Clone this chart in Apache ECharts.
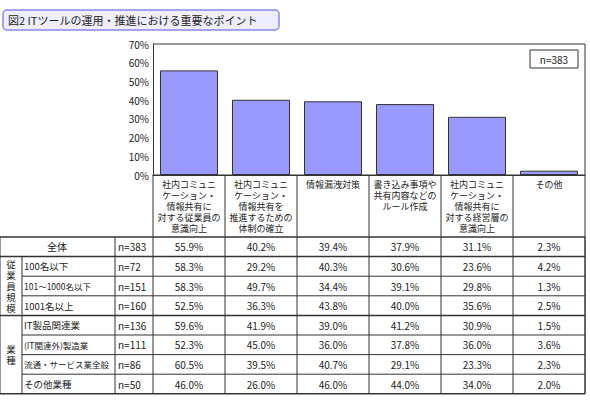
<!DOCTYPE html><html><head><meta charset="utf-8"><script src="https://cdn.jsdelivr.net/npm/echarts@6/dist/echarts.min.js"></script>
<style>body{margin:0}#c{width:590px;height:400px}</style></head><body><div id="c"></div><script>
const title='図2 ITツールの運用・推進における重要なポイント';
const categories=['社内コミュニ\nケーション・\n情報共有に\n対する従業員の\n意識向上','社内コミュニ\nケーション・\n情報共有を\n推進するための\n体制の確立','情報漏洩対策','書き込み事項や\n共有内容などの\nルール作成','社内コミュニ\nケーション・\n情報共有に\n対する経営層の\n意識向上','その他'];
const totalValues=[55.9,40.2,39.4,37.9,31.1,2.3];
const yTicks=[0,10,20,30,40,50,60,70];
const rowLabels=['全体','100名以下','101～1000名以下','1001名以上','IT製品関連業','(IT関連外)製造業','流通・サービス業全般','その他業種'];
const rowN=['n=383','n=72','n=151','n=160','n=136','n=111','n=86','n=50'];
const rows=[
[55.9,40.2,39.4,37.9,31.1,2.3],
[58.3,29.2,40.3,30.6,23.6,4.2],
[58.3,49.7,34.4,39.1,29.8,1.3],
[52.5,36.3,43.8,40.0,35.6,2.5],
[59.6,41.9,39.0,41.2,30.9,1.5],
[52.3,45.0,36.0,37.8,36.0,3.6],
[60.5,39.5,40.7,29.1,23.3,2.3],
[46.0,26.0,46.0,44.0,34.0,2.0]];
const groups=[{name:'従業員規模',from:1,to:3},{name:'業種',from:4,to:7}];
const F='"Noto Sans CJK JP", sans-serif';
const L=153,R=585,TOP=44,AX=175,TT=237,RH=19.6;
const cw=(R-L)/6;
const g=[];
const line=(x1,y1,x2,y2,w)=>g.push({type:'line',shape:{x1,y1,x2,y2},style:{stroke:'#333',lineWidth:w||1}});
const txt=(x,y,t,al,fs)=>g.push({type:'text',x,y,style:{text:t,font:(fs||10)+'px '+F,fill:'#222',textAlign:al||'center',textVerticalAlign:'middle'}});
g.push({type:'rect',shape:{x:3,y:10,width:276,height:20,r:4},style:{fill:'#eeeeff',stroke:'#8888ee',lineWidth:1.5}});
g.push({type:'text',x:8,y:20,style:{text:title,font:'11px '+F,fill:'#222',textVerticalAlign:'middle'}});
g.push({type:'rect',shape:{x:530,y:50,width:48,height:18},style:{fill:'#fff',stroke:'#333'}});
txt(554,59,'n=383');
const bot=TT+RH*rows.length;
for(let i=0;i<=6;i++){line(L+i*cw,AX,L+i*cw,bot);}
line(L,AX,R,AX);
for(let r=0;r<=rows.length;r++){const y=TT+r*RH;let x0=0;
 if(r>0&&r<rows.length&&r!==4&&r!==1) x0=22; line(x0,y,R,y,(r===0||r===rows.length||r===1||r===4)?1.5:1);}
line(0,TT,0,bot);line(22,TT+RH,22,bot);line(115,TT,115,bot);line(R,TT,R,bot);
rows.forEach((row,r)=>{const y=TT+r*RH+RH/2;
 if(r===0) txt(57,y,rowLabels[r]); else txt(24,y,rowLabels[r],'left',rowLabels[r].length>8?8.5:9.5);
 txt(118,y,rowN[r],'left');
 row.forEach((v,c)=>txt(L+c*cw+cw/2,y,v.toFixed(1)+'%'));});
groups.forEach(gr=>{const y=TT+RH*(gr.from+gr.to+1)/2;
 g.push({type:'text',x:11,y,style:{text:gr.name.split('').join('\n'),font:'9.5px '+F,fill:'#222',textAlign:'center',textVerticalAlign:'middle',lineHeight:11}});});
g.push({type:'line',shape:{x1:L,y1:TOP,x2:R,y2:TOP},style:{stroke:'#333'}},{type:'line',shape:{x1:R,y1:TOP,x2:R,y2:AX},style:{stroke:'#333'}});
const ch=echarts.init(document.getElementById('c'),null,{renderer:'svg'});
ch.setOption({animation:false,
grid:{left:L,right:590-R,top:TOP,bottom:400-AX},
xAxis:{type:'category',data:categories,axisTick:{show:false},axisLine:{lineStyle:{color:'#333'}},
 axisLabel:{interval:0,fontSize:9,fontFamily:F,color:'#222',lineHeight:11,margin:4,verticalAlign:'top'}},
yAxis:{type:'value',min:0,max:70,interval:10,axisLine:{show:true,lineStyle:{color:'#333'}},axisTick:{show:false},splitLine:{show:false},
 axisLabel:{formatter:'{value}%',fontSize:10,fontFamily:F,color:'#222',margin:4}},
series:[{type:'bar',data:totalValues,barWidth:58,itemStyle:{color:'#9999ff',borderColor:'#333',borderWidth:1}}],
graphic:g});
</script></body></html>
